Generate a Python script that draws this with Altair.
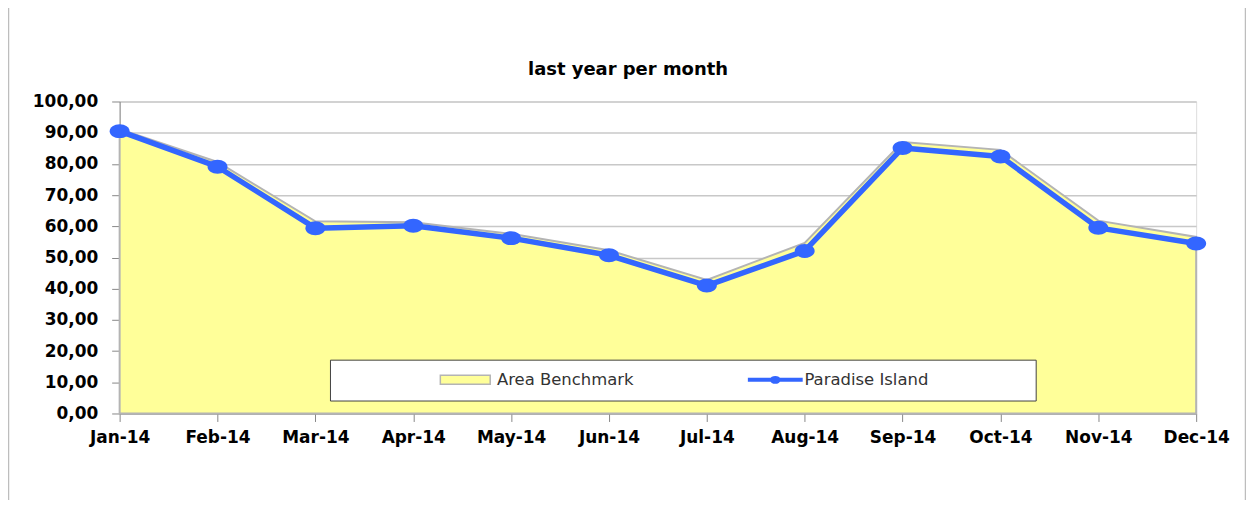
import altair as alt
import pandas as pd

months = ["Jan-14", "Feb-14", "Mar-14", "Apr-14", "May-14", "Jun-14",
          "Jul-14", "Aug-14", "Sep-14", "Oct-14", "Nov-14", "Dec-14"]
paradise = [90.5, 79.1, 59.4, 60.2, 56.2, 50.7, 41.0, 52.1, 85.1, 82.4, 59.5, 54.5]
benchmark = [91.1, 80.6, 61.6, 61.3, 57.6, 52.3, 42.8, 54.7, 87.0, 84.5, 61.8, 56.6]
series_names = ["Area Benchmark", "Paradise Island"]
y_ticks = [0, 10, 20, 30, 40, 50, 60, 70, 80, 90, 100]
title_text = "last year per month"

df_bench = pd.DataFrame({"month": months, "value": benchmark, "series": series_names[0]})
df_par = pd.DataFrame({"month": months, "value": paradise, "series": series_names[1]})
df_one = pd.DataFrame({"k": [0]})

FONT = "DejaVu Sans"
BLUE = "#3366FF"
YELLOW = "#FFFF99"

x_enc = alt.X("month:O", sort=months,
              scale=alt.Scale(type="point", padding=0),
              axis=alt.Axis(title=None, labelAngle=0, tickSize=8, labelPadding=8,
                            labelFont=FONT, labelFontWeight="bold", labelColor="black",
                            labelFontSize=17, grid=False))
y_enc = alt.Y("value:Q", scale=alt.Scale(domain=[0, 100], nice=False),
              axis=alt.Axis(title=None, values=y_ticks, tickSize=8, labelPadding=14,
                            labelFont=FONT, labelFontWeight="bold", labelColor="black",
                            labelFontSize=17, grid=True, gridColor="#C8C8C8", gridWidth=1.5,
                            labelExpr="replace(format(datum.value, '.2f'), '.', ',')"))

# the lone move-to at the end only widens the legend frame
legend_area = alt.Legend(
    title=None, orient="none", legendX=211, legendY=259, direction="horizontal",
    fillColor="white", strokeColor="#404040", padding=12,
    symbolType="M15.08,-0.75H23.42V0.75H15.08ZM112.0,0",
    symbolSize=144,
    symbolStrokeColor="#B4B4B4", symbolStrokeWidth=1.5, symbolOpacity=1,
    labelFont=FONT, labelFontSize=16.5, labelColor="#333333", labelLimit=3000,
    labelOffset=139, zindex=1,
)
legend_line = alt.Legend(
    title=None, orient="none", legendX=610, legendY=259, direction="horizontal",
    padding=12,
    symbolType="M0,0H9.17M5.16,0A0.58,0.33,0,1,1,4.0,0A0.58,0.33,0,1,1,5.16,0Z",
    symbolSize=144, symbolStrokeWidth=4, symbolOpacity=1,
    labelFont=FONT, labelFontSize=16.5, labelColor="#333333", labelLimit=3000,
    labelOffset=48.5, zindex=2,
)

area = alt.Chart(df_bench).mark_area(stroke="#B4B4B4", strokeWidth=2, opacity=1).encode(
    x=x_enc, y=y_enc,
    fill=alt.Fill("series:N", scale=alt.Scale(domain=[series_names[0]], range=[YELLOW]),
                  legend=legend_area),
)
line = alt.Chart(df_par).mark_line(strokeWidth=5.5, strokeJoin="round").encode(
    x=x_enc, y=y_enc,
    stroke=alt.Stroke("series:N", scale=alt.Scale(domain=[series_names[1]], range=[BLUE]),
                      legend=legend_line),
)
ellipse = "M1,0A1,0.7,0,1,1,-1,0A1,0.7,0,1,1,1,0Z"
points = alt.Chart(df_par).mark_point(shape=ellipse, filled=True, size=400,
                                      color=BLUE, opacity=1).encode(x=x_enc, y=y_enc)

frame_l = alt.Chart(df_one).mark_rule(color="#BDBDBD", strokeWidth=1.5).encode(
    x=alt.value(-111.5), y=alt.value(-101), y2=alt.value(407))
frame_r = alt.Chart(df_one).mark_rule(color="#BDBDBD", strokeWidth=1.5).encode(
    x=alt.value(1129.5), y=alt.value(-101), y2=alt.value(407))

chart = alt.layer(frame_l, frame_r, area, line, points).properties(
    width=1080, height=313,
    autosize=alt.AutoSizeParams(type="none"),
    padding={"left": 112, "top": 93, "right": 50, "bottom": 86},
    title=alt.TitleParams(title_text, font=FONT, fontSize=18, fontWeight="bold",
                          color="black", anchor="middle", baseline="alphabetic",
                          offset=0, dx=-30, dy=93),
).configure_view(stroke="#808080", strokeWidth=2).configure_axis(
    labelFont=FONT, labelFontWeight="bold", labelColor="black",
    tickColor="black", tickWidth=1.5, domainColor="black", domainWidth=1.5,
).configure(background="white")

chart.save("out.html", embed_options={"renderer": "svg", "actions": False})
